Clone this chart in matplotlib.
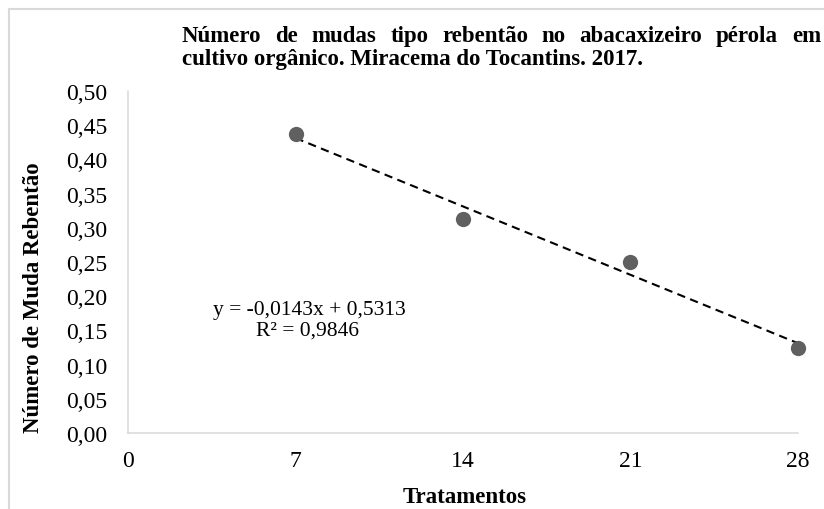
import numpy as np
import matplotlib
matplotlib.use("Agg")
import matplotlib.pyplot as plt
from matplotlib.patches import Rectangle

# ---- data ----
tratamentos = [7, 14, 21, 28]
muda_rebentao = [0.4375, 0.3125, 0.25, 0.125]
x_ticks = [0, 7, 14, 21, 28]
y_ticks = [0.0, 0.05, 0.10, 0.15, 0.20, 0.25, 0.30, 0.35, 0.40, 0.45, 0.50]
title_lines = ["Número de mudas tipo rebentão no abacaxizeiro pérola em",
               "cultivo orgânico. Miracema do Tocantins. 2017."]
x_label = "Tratamentos"
y_label = "Número de Muda Rebentão"
equation_text = "y = -0,0143x + 0,5313"
r2_text = "R² = 0,9846"

plt.rcParams['font.family'] = ['Liberation Serif', 'DejaVu Serif']

W, H = 824, 510
fig = plt.figure(figsize=(W / 100, H / 100), dpi=100)
fig.patch.set_facecolor('white')

def fx(px):
    return px / W

def fy(py):
    return 1 - py / H

ax = fig.add_axes([fx(128), fy(434), fx(798) - fx(128), fy(92) - fy(434)])
ax.set_xlim(0, 28)
ax.set_ylim(0, 0.5)

xarr = np.array(tratamentos, dtype=float)
yarr = np.array(muda_rebentao, dtype=float)
coef = np.polyfit(xarr, yarr, 1)
xs = np.array([xarr.min(), xarr.max()])
ax.plot(xs, np.polyval(coef, xs), color='black', lw=1.5, dashes=(4, 2.6), zorder=3,
        clip_on=False)
ax.plot(xarr, yarr, 'o', color='#606060', markersize=11, markeredgewidth=0, zorder=4,
        clip_on=False)

ax.set_xticks(x_ticks)
ax.set_xticklabels([str(t) for t in x_ticks])
ax.set_yticks(y_ticks)
ax.set_yticklabels([f"{v:.2f}".replace('.', ',') for v in y_ticks])
ax.tick_params(axis='both', length=0, labelsize=17, colors='black')
ax.tick_params(axis='y', pad=15)
ax.tick_params(axis='x', pad=12)
for s in ['top', 'right']:
    ax.spines[s].set_visible(False)
for s in ['left', 'bottom']:
    ax.spines[s].set_color('#d9d9d9')
    ax.spines[s].set_linewidth(1.1)

# regression equation
fig.text(fx(309), fy(311), equation_text, ha='center', va='center', fontsize=15.5)
fig.text(fx(307), fy(331), r2_text, ha='center', va='center', fontsize=15.5)

# axis labels
fig.text(fx(34), fy(298), y_label, rotation=90, ha='center', va='center',
         fontsize=16.5, fontweight='bold')
fig.text(fx(465), fy(498), x_label, ha='center', va='center',
         fontsize=16.5, fontweight='bold')

# title: first line justified between x=182 and x=822
tsize = 16.5
renderer = fig.canvas.get_renderer()
words = title_lines[0].split(' ')
tmp = [fig.text(0, 0, w, fontsize=tsize, fontweight='bold') for w in words]
widths = [t.get_window_extent(renderer=renderer).width for t in tmp]
for t in tmp:
    t.remove()
left, right = 182, 821
gap = (right - left - sum(widths)) / (len(words) - 1)
xpos = left
for w, wd in zip(words, widths):
    fig.text(fx(xpos), fy(42), w, fontsize=tsize, fontweight='bold', ha='left',
             va='baseline')
    xpos += wd + gap
fig.text(fx(182), fy(65), title_lines[1], fontsize=tsize, fontweight='bold', ha='left',
         va='baseline')

# chart-area border (partially visible)
fig.patches.append(Rectangle((fx(9), -0.1), 1.0, fy(10) + 0.1, transform=fig.transFigure,
                             fill=False, edgecolor='#d9d9d9', linewidth=1.5))

fig.savefig('out.png', dpi=100, facecolor='white')
